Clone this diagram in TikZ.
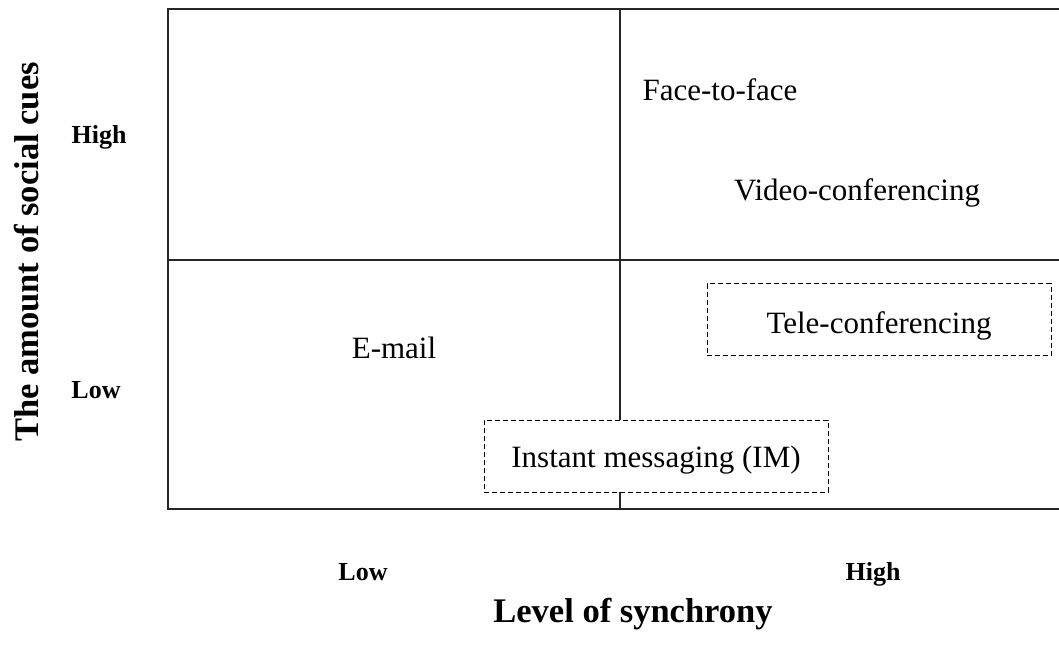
\documentclass[tikz,border=0pt]{standalone}
\usepackage{fontspec}
\setmainfont{Liberation Serif}
\begin{document}
\begin{tikzpicture}[x=1pt,y=-1pt,
  frameline/.style={line width=1.3pt, draw=black!85},
  medium/.style={font=\fontsize{31}{36}\selectfont, inner sep=0pt},
  ticklabel/.style={font=\fontsize{26}{30}\selectfont\bfseries, inner sep=0pt},
  axistitle/.style={font=\fontsize{34.5}{40}\selectfont\bfseries, inner sep=0pt},
  dashbox/.style={draw, line width=1pt, dash pattern=on 5pt off 3pt, fill=white,
    minimum width=344pt, minimum height=72pt, inner sep=0pt, text depth=0pt,
    font=\fontsize{31}{36}\selectfont}]
\useasboundingbox (0,0) rectangle (1059,657);

% quadrant frame (open on the right)
\coordinate (tl) at (168,9);
\coordinate (tr) at (1059,9);
\coordinate (bl) at (168,509);
\coordinate (br) at (1059,509);
\coordinate (ml) at (168,260);
\coordinate (mr) at (1059,260);
\coordinate (mt) at (620,9);
\coordinate (mb) at (620,509);
\draw[frameline] (tr) -- (tl) -- (bl) -- (br);
\draw[frameline] (ml) -- (mr);
\draw[frameline] (mt) -- (mb);

% media placed in the quadrants
\node[medium] (f2f)   at (720,90)  {Face-to-face};
\node[medium] (video) at (857,193) {Video-conferencing};
\node[medium] (email) at (394,348) {E-mail};
\node[dashbox, text height=27pt] (tele) at (879,319.5) {Tele-conferencing};
\node[dashbox, text height=22pt] (im)   at (656,456)   {Instant messaging (IM)};

% axis labels
\node[axistitle, rotate=90] (ytitle) at (27,252) {The amount of social cues};
\node[ticklabel] (yhigh) at (99,137) {High};
\node[ticklabel] (ylow)  at (96,390) {Low};
\node[ticklabel] (xlow)  at (363,572) {Low};
\node[ticklabel] (xhigh) at (873,574) {High};
\node[axistitle] (xtitle) at (633,614) {Level of synchrony};
\end{tikzpicture}
\end{document}
